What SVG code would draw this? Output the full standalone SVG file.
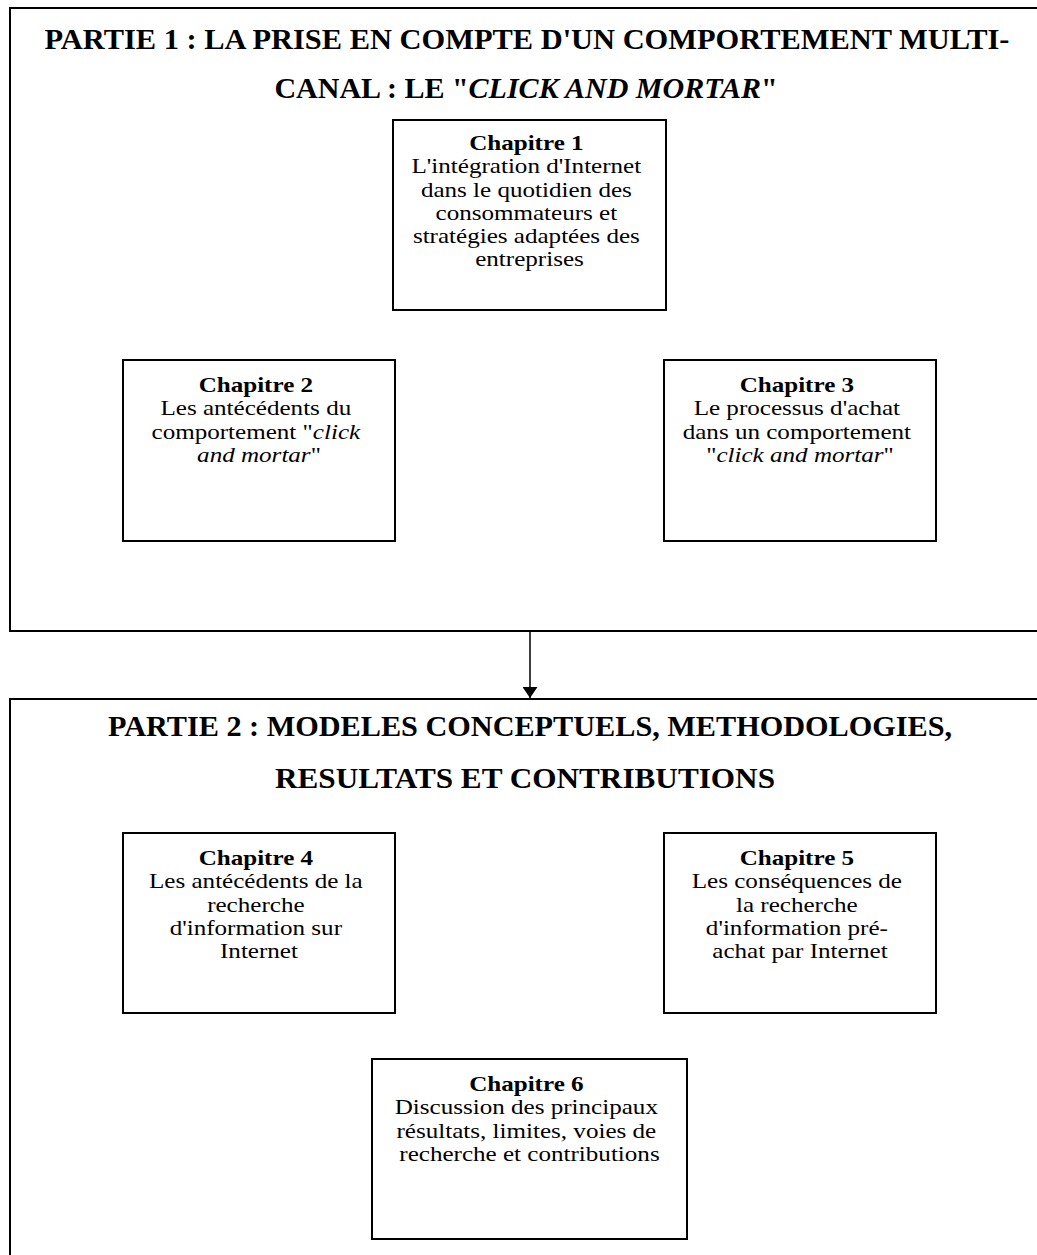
<svg xmlns="http://www.w3.org/2000/svg" width="1037" height="1255" viewBox="0 0 1037 1255">
  <defs>
    <style>
      .part { fill: #fff; stroke: #000; stroke-width: 2; }
      .box { fill: #fff; stroke: #000; stroke-width: 2; }
      .title { font-family: "Liberation Serif", "Times New Roman", serif; font-weight: bold; font-size: 30px; fill: #000; text-anchor: middle; }
      .body { font-family: "Liberation Serif", "Times New Roman", serif; font-size: 22px; fill: #000; text-anchor: middle; }
      .head { font-weight: bold; }
      .conn { stroke: #000; stroke-width: 1.5; fill: none; }
    </style>
    <marker id="arrow" viewBox="0 0 10 10" refX="10" refY="5" markerUnits="userSpaceOnUse" markerWidth="11" markerHeight="15" orient="auto" preserveAspectRatio="none">
      <path d="M0,0 L10,5 L0,10 Z" fill="#000"/>
    </marker>
  </defs>
  <rect width="1037" height="1255" fill="#fff"/>

  <g id="partie1">
    <rect class="part" x="10" y="8" width="1040" height="623"/>
    <text class="title" x="527" y="49" textLength="965" lengthAdjust="spacingAndGlyphs">PARTIE 1 : LA PRISE EN COMPTE D'UN COMPORTEMENT MULTI-</text>
    <text class="title" x="526" y="98">CANAL : LE "<tspan font-style="italic">CLICK AND MORTAR</tspan>"</text>
  </g>

  <g id="partie2">
    <rect class="part" x="10" y="699" width="1040" height="600"/>
    <text class="title" x="530" y="736" textLength="844" lengthAdjust="spacingAndGlyphs">PARTIE 2 : MODELES CONCEPTUELS, METHODOLOGIES,</text>
    <text class="title" x="525" y="788" textLength="500" lengthAdjust="spacingAndGlyphs">RESULTATS ET CONTRIBUTIONS</text>
  </g>

  <g id="chapitre1">
    <rect class="box" x="393" y="120" width="273" height="190"/>
    <text class="body" x="529.5" y="150" transform="matrix(1.14 0 0 1 -74.13 0)">
      <tspan class="head" x="529.5">Chapitre 1</tspan>
      <tspan x="529.5" dy="23.3">L'intégration d'Internet</tspan>
      <tspan x="529.5" dy="23.3">dans le quotidien des</tspan>
      <tspan x="529.5" dy="23.3">consommateurs et</tspan>
      <tspan x="529.5" dy="23.3">stratégies adaptées des</tspan>
      <tspan x="529.5" dy="23.3">entreprises</tspan>
    </text>
  </g>

  <g id="chapitre2">
    <rect class="box" x="123" y="360" width="272" height="181"/>
    <text class="body" x="259" y="392" transform="matrix(1.14 0 0 1 -36.26 0)">
      <tspan class="head" x="259">Chapitre 2</tspan>
      <tspan x="259" dy="23.3">Les antécédents du</tspan>
      <tspan x="259" dy="23.3">comportement "<tspan font-style="italic">click</tspan></tspan>
      <tspan x="259" dy="23.3"><tspan font-style="italic">and mortar</tspan>"</tspan>
    </text>
  </g>

  <g id="chapitre3">
    <rect class="box" x="664" y="360" width="272" height="181"/>
    <text class="body" x="800" y="392" transform="matrix(1.14 0 0 1 -112 0)">
      <tspan class="head" x="800">Chapitre 3</tspan>
      <tspan x="800" dy="23.3">Le processus d'achat</tspan>
      <tspan x="800" dy="23.3">dans un comportement</tspan>
      <tspan x="800" dy="23.3">"<tspan font-style="italic">click and mortar</tspan>"</tspan>
    </text>
  </g>

  <g id="chapitre4">
    <rect class="box" x="123" y="833" width="272" height="180"/>
    <text class="body" x="259" y="865" transform="matrix(1.14 0 0 1 -36.26 0)">
      <tspan class="head" x="259">Chapitre 4</tspan>
      <tspan x="259" dy="23.3">Les antécédents de la</tspan>
      <tspan x="259" dy="23.3">recherche</tspan>
      <tspan x="259" dy="23.3">d'information sur</tspan>
      <tspan x="259" dy="23.3">Internet</tspan>
    </text>
  </g>

  <g id="chapitre5">
    <rect class="box" x="664" y="833" width="272" height="180"/>
    <text class="body" x="800" y="865" transform="matrix(1.14 0 0 1 -112 0)">
      <tspan class="head" x="800">Chapitre 5</tspan>
      <tspan x="800" dy="23.3">Les conséquences de</tspan>
      <tspan x="800" dy="23.3">la recherche</tspan>
      <tspan x="800" dy="23.3">d'information pré-</tspan>
      <tspan x="800" dy="23.3">achat par Internet</tspan>
    </text>
  </g>

  <g id="chapitre6">
    <rect class="box" x="372" y="1059" width="315" height="180"/>
    <text class="body" x="529.5" y="1091" transform="matrix(1.14 0 0 1 -74.13 0)">
      <tspan class="head" x="529.5">Chapitre 6</tspan>
      <tspan x="529.5" dy="23.3">Discussion des principaux</tspan>
      <tspan x="529.5" dy="23.3">résultats, limites, voies de</tspan>
      <tspan x="529.5" dy="23.3">recherche et contributions</tspan>
    </text>
  </g>

  <g id="connectors">
    <line class="conn" x1="530" y1="632" x2="530" y2="698" marker-end="url(#arrow)"/>
  </g>
</svg>
